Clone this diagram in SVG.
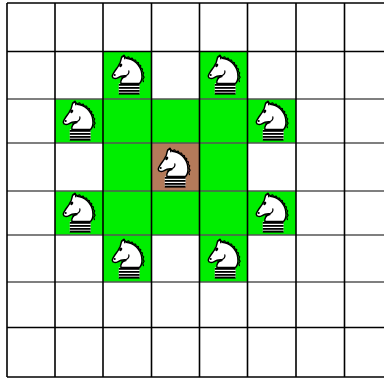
<svg xmlns="http://www.w3.org/2000/svg" width="384" height="379" viewBox="0 0 384 379">
  <style>
    .move { fill: #00ee00; }
    .home { fill: #b47a5a; }
    .vline { stroke: #000; stroke-width: 1.6; }
    .hline { stroke: #555; stroke-width: 1.6; }
    .edge { stroke: #000; stroke-width: 1.6; }
    .kbody { fill: #fff; stroke: #000; stroke-width: 1.4; stroke-linejoin: round; }
    .kline { fill: none; stroke: #000; stroke-width: 1.2; stroke-linecap: round; stroke-linejoin: round; }
    .kdot { fill: #000; }
    .kbar { fill: #000; }
  </style>
  <defs>
    <!-- white knight, local box about 31 x 39 -->
    <symbol id="knight" overflow="visible">
      <g transform="scale(1.04 1.0)">
        <!-- striped base -->
        <rect x="6.5" y="28.5" width="20" height="10.5" fill="#fff"/>
        <rect class="kbar" x="6.5" y="29" width="20" height="1.8"/>
        <rect class="kbar" x="6.5" y="32" width="20" height="1.8"/>
        <rect class="kbar" x="6.5" y="35" width="20" height="1.8"/>
        <rect class="kbar" x="6.5" y="37.6" width="20" height="2"/>
        <!-- mane serrations -->
        <path class="kline" d="M14,2.6 L16,1.8 L17,3.6 L19.5,3.2 L20.4,5.1 L22.7,5.2 L23.3,7.2 L25.4,7.6 L25.5,9.6 L27.6,10.6 L27.3,12.7 L29.3,14 L28.9,16.2 L30.5,17.8 L29.7,20.1 L30.9,22.3 L29.6,24.4 L30.2,26.6"/>
        <!-- head and neck -->
        <path class="kbody" d="M11.5,0.3 L13.5,3.2 C20.5,3.6 27.5,10 28.6,18.5 C29.3,24 28,27 26.5,28.5 L8.6,28.5 C7.8,25.5 9.6,22.8 13.2,20.8 C10.8,20.6 8.2,21 5.4,22.8 C3.4,24 0.6,23.6 0.3,21.3 C0.1,19.2 3.2,15.5 5.9,11.4 L8,7.2 L9.3,2 Z"/>
        <!-- ear -->
        <path class="kline" d="M9.4,2.4 L11.5,0.3 L12.3,3.9"/>
        <!-- jaw line -->
        <path class="kline" d="M13.2,20.8 C15.4,19.6 16.6,17.8 16.2,15.8"/>
        <path class="kline" d="M9.2,23 C10.8,22.2 12.3,21.8 13.4,21.6"/>
        <!-- eye and nostril -->
        <ellipse class="kdot" cx="8.4" cy="10.4" rx="1.4" ry="1.8" transform="rotate(30 8.4 10.4)"/>
        <circle class="kdot" cx="2.6" cy="20" r="1"/>
      </g>
    </symbol>
  </defs>

  <rect x="0" y="0" width="384" height="379" fill="#fff"/>

  <!-- highlighted squares -->
  <g id="squares">
    <rect class="move" x="103" y="51.5" width="48.5" height="47.5"/>
    <rect class="move" x="199.5" y="51.5" width="48" height="47.5"/>
    <rect class="move" x="55" y="99" width="241" height="44"/>
    <rect class="move" x="103" y="143" width="144.5" height="48"/>
    <rect class="home" x="151.5" y="143" width="48" height="48"/>
    <rect class="move" x="55" y="191" width="241" height="44"/>
    <rect class="move" x="103" y="235" width="48.5" height="47"/>
    <rect class="move" x="199.5" y="235" width="48" height="47"/>
  </g>

  <!-- board grid -->
  <g id="grid">
    <line class="edge" x1="7" y1="3" x2="384" y2="3"/>
    <line class="edge" x1="7" y1="51.5" x2="384" y2="51.5"/>
    <line class="hline" x1="7" y1="99" x2="384" y2="99"/>
    <line class="hline" x1="7" y1="143" x2="384" y2="143"/>
    <line class="hline" x1="7" y1="191" x2="384" y2="191"/>
    <line class="hline" x1="7" y1="235" x2="384" y2="235"/>
    <line class="hline" x1="7" y1="282" x2="384" y2="282"/>
    <line class="edge" x1="7" y1="327.5" x2="384" y2="327.5"/>
    <line class="edge" x1="7" y1="377" x2="384" y2="377"/>
    <line class="vline" x1="7" y1="3" x2="7" y2="377"/>
    <line class="vline" x1="55" y1="3" x2="55" y2="377"/>
    <line class="vline" x1="103" y1="3" x2="103" y2="377"/>
    <line class="vline" x1="151.5" y1="3" x2="151.5" y2="377"/>
    <line class="vline" x1="199.5" y1="3" x2="199.5" y2="377"/>
    <line class="vline" x1="247.5" y1="3" x2="247.5" y2="377"/>
    <line class="vline" x1="296" y1="3" x2="296" y2="377"/>
    <line class="vline" x1="344.5" y1="3" x2="344.5" y2="377"/>
  </g>

  <!-- knights -->
  <g id="knight-center"><use href="#knight" x="158" y="148"/></g>
  <g id="knight-b1"><use href="#knight" x="112" y="55"/></g>
  <g id="knight-d1"><use href="#knight" x="208" y="55"/></g>
  <g id="knight-a2"><use href="#knight" x="63" y="101"/></g>
  <g id="knight-e2"><use href="#knight" x="256" y="101"/></g>
  <g id="knight-a4"><use href="#knight" x="63" y="193"/></g>
  <g id="knight-e4"><use href="#knight" x="256" y="193"/></g>
  <g id="knight-b5"><use href="#knight" x="112" y="239"/></g>
  <g id="knight-d5"><use href="#knight" x="208" y="239"/></g>
</svg>
